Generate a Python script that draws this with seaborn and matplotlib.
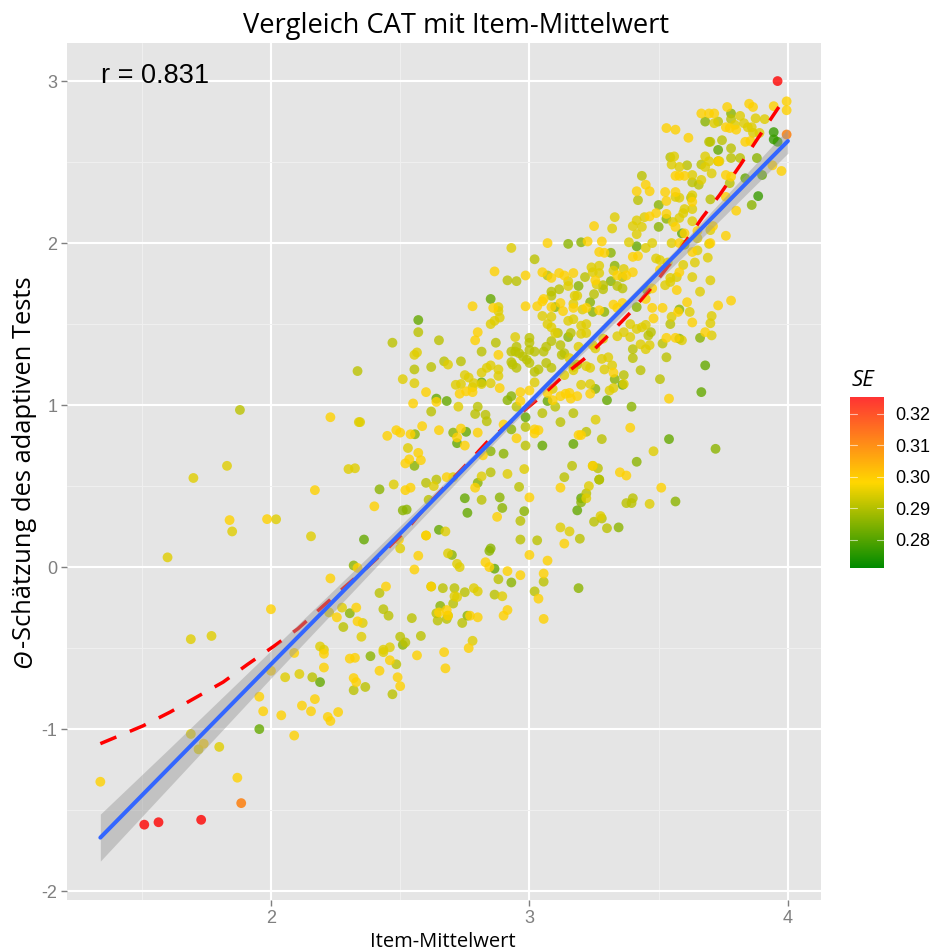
import numpy as np
import pandas as pd
import matplotlib.pyplot as plt
import seaborn as sns
from matplotlib.cm import ScalarMappable
from matplotlib.colors import LinearSegmentedColormap, Normalize
from matplotlib.ticker import AutoMinorLocator

# points, grouped by the SE colour they show: (Item-Mittelwert, Theta)
pts_deep = [(3.945, 2.685), (3.945, 2.64), (3.96, 2.625), (3.885, 2.29)]
pts_green = [(2.57, 1.525), (2.85, 1.655), (1.955, -1.0), (2.985, 0.925), (3.05, 0.75), (3.17, 0.76),
             (2.36, 0.17), (2.72, 0.765), (2.76, 0.335), (2.75, 0.425), (3.54, 0.79), (3.665, 1.08),
             (3.68, 1.245), (3.07, 1.025), (3.185, 0.35), (3.2, 0.425), (2.865, -0.01), (2.65, 0.23),
             (3.9, 2.42), (3.59, 2.06), (3.3, 1.03), (2.64, 1.04), (2.68, 1.025), (2.755, 0.835),
             (2.19, -0.71), (3.835, 2.4), (3.415, 1.98), (3.73, 2.575), (2.815, 1.14), (3.36, 1.125)]
pts_lime = [(2.32, 0.01), (2.305, -0.285), (2.705, 0.83), (2.93, 0.85), (2.915, 1.03), (2.93, 1.055),
            (2.85, 0.715), (2.9, 0.7), (2.885, 0.43), (2.8, 0.52), (2.42, 0.48), (2.555, 0.625),
            (2.557, 0.82), (3.15, 1.995), (3.2, 2.005), (3.315, 1.94), (3.33, 1.86), (3.315, 1.765),
            (3.19, 1.735), (3.235, 1.635), (3.245, 1.575), (3.29, 1.575), (3.415, 1.605), (3.455, 1.71),
            (3.58, 1.59), (3.33, 1.16), (3.255, 1.1), (3.395, 0.99), (3.58, 1.41), (3.5, 2.1),
            (3.53, 2.15), (3.5, 2.235), (3.73, 2.505), (3.78, 2.8), (3.68, 2.75), (3.86, 2.235),
            (3.88, 2.525), (3.72, 0.73), (3.565, 0.405), (3.415, 0.65), (3.19, -0.13), (2.895, 0.365),
            (2.7, 0.075), (2.85, 0.115), (2.845, 0.1), (2.93, -0.095), (2.655, -0.24), (2.76, -0.3),
            (2.385, -0.55), (2.51, -0.48), (2.98, 0.345), (3.2, 0.4), (3.345, 0.245), (3.27, 0.54),
            (2.51, 0.35), (2.525, 0.355), (3.6, 1.99), (3.66, 1.415), (3.1, 1.605), (3.15, 1.42)]
pts_olive = [(1.88, 0.97), (2.28, -0.37), (2.32, -0.76), (2.16, -0.68), (2.57, 1.45), (2.65, 1.4),
             (2.47, 1.385), (2.335, 1.21), (2.87, 1.385), (2.815, 1.33), (2.555, 1.22), (2.62, 1.235),
             (2.67, 1.27), (2.735, 1.27), (2.95, 0.99), (3.1, 0.99), (3.05, 0.95), (3.12, 0.895),
             (3.17, 0.95), (2.985, 0.75), (2.985, 0.865), (2.62, 0.96), (2.79, 0.945), (2.83, 0.94),
             (2.835, 0.9), (2.8, 0.99), (2.85, 0.585), (2.96, 0.495), (3.135, 0.555), (3.165, 0.625),
             (2.64, 0.54), (2.6, 0.52), (2.815, 0.415), (2.61, 0.415), (2.96, 1.32), (2.975, 1.3),
             (2.99, 1.28), (3.0, 1.26), (2.93, 1.265), (2.935, 1.25), (2.95, 1.23), (3.0, 1.415),
             (3.0, 1.385), (2.95, 1.36), (2.945, 1.33), (2.93, 1.33), (3.0, 1.34), (3.02, 1.33),
             (3.065, 1.36), (3.055, 1.33), (3.085, 1.395), (3.12, 1.37), (3.125, 1.31), (3.135, 1.32),
             (3.02, 1.205), (3.035, 1.22), (3.065, 1.26), (3.085, 1.23), (3.11, 1.445), (3.16, 1.445),
             (3.17, 1.235), (3.185, 1.25), (2.915, 1.77), (2.95, 1.765), (3.02, 1.9), (3.07, 1.8),
             (3.085, 1.7), (3.085, 1.675), (3.115, 1.715), (3.25, 1.685), (3.215, 1.79), (3.36, 1.79),
             (3.34, 1.735), (3.36, 1.72), (3.285, 1.74), (3.285, 1.715), (3.53, 1.295), (3.43, 1.215),
             (3.505, 1.16), (3.365, 1.185), (3.4, 1.345), (3.4, 1.29), (3.46, 1.43), (3.47, 1.45),
             (3.545, 1.5), (3.515, 1.38), (3.27, 0.54), (3.22, 0.455), (3.28, 0.79), (3.22, 0.835),
             (3.245, 0.625), (3.265, 0.61), (3.375, 0.395), (3.4, 0.425), (3.395, 0.395), (3.25, 0.28),
             (3.28, 0.3), (3.195, 0.175), (3.3, 0.24), (2.965, 0.17), (3.03, 0.165), (2.965, 0.285),
             (2.71, -0.13), (2.75, -0.155), (2.865, -0.17), (2.705, -0.225), (2.64, -0.285), (2.74, -0.345),
             (2.685, -0.3), (2.68, -0.32), (2.645, -0.33), (3.055, -0.09), (3.02, -0.15), (2.88, -0.075),
             (2.42, -0.16), (2.62, -0.12), (2.665, -0.13), (2.545, -0.315), (2.435, -0.26), (2.455, -0.3),
             (2.5, -0.43), (2.52, -0.465), (2.58, -0.425), (2.485, -0.6), (2.365, -0.74), (2.47, -0.785),
             (3.78, 2.765), (3.78, 2.585), (3.815, 2.525), (3.73, 2.75), (3.695, 2.625), (3.7, 2.625),
             (3.745, 2.635), (3.78, 2.525), (3.545, 2.53), (3.61, 2.48), (3.665, 2.485), (3.775, 2.37),
             (3.63, 2.375), (3.655, 2.36), (3.42, 2.265), (3.7, 2.27), (3.625, 2.28), (3.435, 2.415)]
pts_yellow = [(2.02, 0.295), (1.85, 0.22), (2.155, 0.19), (1.6, 0.06), (2.225, -0.28), (1.69, -0.445),
              (1.77, -0.425), (2.055, -0.68), (2.11, -0.66), (1.69, -1.03), (1.72, -1.125), (1.8, -1.11),
              (1.83, 0.625), (1.7, 0.55), (2.19, -0.49), (2.205, -0.51), (2.275, -0.25), (2.345, 0.895),
              (2.51, 1.16), (2.555, 1.135), (2.685, 1.25), (2.565, 1.325), (2.555, 1.31), (2.75, 1.185),
              (2.765, 1.17), (2.835, 1.23), (2.85, 1.245), (2.815, 1.2), (2.88, 1.22), (2.88, 1.18),
              (2.785, 1.135), (2.815, 1.13), (2.85, 1.135), (2.715, 1.125), (2.735, 1.13), (2.78, 1.11),
              (2.34, 0.895), (2.725, 0.99), (2.53, 0.735), (2.3, 0.605), (2.325, 0.61), (2.475, 0.51),
              (2.63, 0.5), (2.705, 0.555), (2.815, 0.56), (2.915, 0.575), (2.98, 0.605), (3.135, 1.185),
              (3.02, 1.14), (3.09, 1.1), (2.88, 1.605), (2.88, 1.58), (2.885, 1.54), (2.865, 1.52),
              (2.85, 1.5), (3.05, 1.55), (3.085, 1.545), (3.15, 1.52), (3.17, 1.53), (3.07, 1.5),
              (3.085, 1.48), (3.1, 1.445), (2.945, 1.42), (3.17, 1.215), (3.33, 2.16), (3.32, 2.09),
              (3.4, 2.105), (3.435, 2.1), (3.415, 2.055), (3.385, 2.005), (3.45, 1.97), (3.475, 2.0),
              (3.55, 2.0), (2.93, 1.97), (3.49, 1.905), (3.505, 1.895), (3.24, 1.85), (3.27, 1.86),
              (3.365, 1.84), (3.245, 1.82), (3.27, 1.815), (3.325, 1.83), (3.15, 1.765), (3.15, 1.735),
              (3.26, 1.745), (3.175, 1.675), (3.185, 1.675), (3.17, 1.625), (3.205, 1.59), (3.545, 1.76),
              (3.57, 1.79), (3.545, 1.785), (3.525, 1.74), (3.55, 1.545), (3.39, 1.5), (3.415, 1.47),
              (3.435, 1.48), (3.45, 1.495), (3.365, 1.45), (3.39, 1.42), (3.34, 1.425), (3.285, 1.41),
              (3.43, 1.375), (3.45, 1.345), (3.465, 1.37), (3.29, 1.22), (3.28, 1.285), (3.305, 1.295),
              (3.32, 1.245), (3.22, 1.24), (3.235, 1.23), (3.255, 1.35), (3.245, 1.37), (3.2, 1.49),
              (3.22, 1.5), (3.2, 1.44), (3.22, 1.445), (3.155, 1.29), (3.19, 1.36), (3.2, 1.125),
              (3.235, 1.13), (3.365, 1.13), (3.325, 1.105), (3.31, 1.09), (3.256, 0.91), (3.48, 0.715),
              (3.23, 0.5), (3.22, 0.425), (3.465, 0.39), (3.275, 0.315), (3.155, 0.22), (3.12, 0.245),
              (2.895, -0.18), (2.71, -0.18), (2.72, -0.185), (2.785, -0.13), (2.8, -0.15), (2.73, 0.0),
              (2.72, 0.02), (2.685, 0.085), (2.6, 0.195), (2.675, 0.22), (2.5, 0.115), (2.78, -0.455),
              (2.435, -0.51), (2.435, -0.525), (2.46, -0.495), (2.355, -0.345), (2.35, -0.43), (3.845, 2.715),
              (3.86, 2.715), (3.83, 2.74), (3.795, 2.73), (3.815, 2.785), (3.875, 2.77), (3.89, 2.68),
              (3.865, 2.68), (3.91, 2.765), (3.715, 2.74), (3.735, 2.505), (3.68, 2.535), (3.695, 2.505),
              (3.68, 2.47), (3.705, 2.43), (3.58, 2.47), (3.56, 2.535), (3.55, 2.485), (3.63, 2.42),
              (3.665, 2.39), (3.415, 2.14), (3.445, 2.16), (3.63, 2.295), (3.58, 2.28), (3.565, 2.285),
              (3.63, 2.21), (3.6, 2.21), (3.595, 2.185), (3.58, 2.155), (3.555, 2.13), (3.63, 2.135),
              (3.7, 2.08), (3.65, 2.03), (3.695, 1.995), (3.65, 1.955), (3.69, 1.91), (3.64, 1.88),
              (3.63, 1.79), (3.7, 1.77), (3.66, 1.7), (3.705, 1.55), (3.7, 1.505), (3.62, 1.575),
              (3.595, 1.865), (3.535, 1.88), (3.705, 1.43), (3.59, 1.4)]
pts_gold = [(2.17, 0.475), (1.84, 0.29), (1.985, 0.296), (2.23, -0.07), (2.0, -0.26), (2.255, -0.31),
            (2.33, -0.25), (2.335, -0.335), (2.205, -0.535), (2.305, -0.565), (2.325, -0.56), (2.205, -0.62),
            (2.33, -0.71), (2.32, -0.685), (1.955, -0.8), (2.17, -0.815), (2.12, -0.855), (1.97, -0.89),
            (2.155, -0.89), (2.26, -0.895), (2.22, -0.925), (2.23, -0.95), (2.09, -1.04), (1.34, -1.325),
            (1.87, -1.3), (2.23, 0.925), (2.04, -0.915), (1.74, -1.09), (2.09, -0.53), (2.0, -0.64),
            (2.78, 1.61), (2.79, 1.4), (2.8, 1.45), (2.88, 1.31), (2.885, 1.105), (2.6, 1.08),
            (2.64, 1.02), (2.55, 1.01), (2.755, 1.085), (2.73, 1.07), (2.78, 1.08), (2.45, 0.81),
            (2.485, 0.845), (2.5, 0.83), (2.54, 0.82), (2.585, 0.87), (2.65, 0.845), (2.735, 0.855),
            (2.72, 0.8), (2.75, 0.75), (2.8, 0.83), (2.57, 0.705), (2.535, 0.665), (2.58, 0.66),
            (2.52, 0.64), (2.82, 0.69), (2.95, 0.795), (3.02, 0.85), (3.035, 0.845), (3.02, 0.825),
            (2.9, 0.88), (3.12, 0.49), (3.19, 0.815), (3.0, 0.43), (2.79, 0.49), (2.68, 0.555),
            (2.52, 0.475), (2.54, 0.49), (2.985, 1.61), (3.03, 1.61), (3.085, 1.605), (2.86, 1.6),
            (3.13, 1.58), (3.17, 1.6), (3.0, 1.09), (2.965, 1.08), (3.07, 1.075), (2.965, 1.025),
            (3.09, 1.03), (3.12, 1.055), (3.14, 1.07), (3.155, 1.075), (3.16, 1.04), (3.185, 1.055),
            (3.25, 2.105), (3.07, 2.0), (3.225, 2.01), (3.28, 2.01), (3.27, 1.945), (3.29, 1.94),
            (3.4, 1.915), (3.42, 1.92), (2.865, 1.825), (2.985, 1.8), (3.05, 1.82), (3.085, 1.785),
            (3.115, 1.815), (3.135, 1.8), (3.17, 1.815), (3.34, 1.8), (3.375, 1.8), (3.4, 1.82),
            (3.255, 1.77), (3.12, 1.63), (3.055, 1.655), (3.05, 1.64), (3.22, 1.6), (3.27, 1.585),
            (3.325, 1.62), (3.34, 1.6), (3.36, 1.63), (3.475, 1.6), (3.515, 1.6), (3.45, 1.655),
            (3.475, 1.72), (3.48, 1.535), (3.53, 1.415), (3.565, 1.415), (3.54, 1.04), (3.235, 1.07),
            (3.325, 1.2), (3.39, 0.86), (3.2, 0.815), (3.35, 0.585), (3.375, 0.565), (3.51, 0.49),
            (3.245, 0.625), (2.875, 0.31), (2.6, 0.195), (2.495, 0.17), (2.57, 0.07), (2.83, 0.03),
            (3.0, 0.075), (3.07, 0.04), (2.965, -0.05), (3.055, -0.04), (2.915, -0.025), (2.555, -0.015),
            (2.845, 0.0), (2.335, -0.005), (3.135, 0.145), (2.4, 0.375), (3.035, -0.195), (2.445, -0.12),
            (2.62, -0.12), (2.68, -0.265), (2.65, -0.28), (2.685, -0.3), (2.77, -0.3), (2.8, -0.31),
            (2.915, -0.265), (2.9, -0.3), (3.055, -0.32), (2.565, -0.545), (2.67, -0.525), (2.765, -0.5),
            (2.675, -0.625), (2.46, -0.575), (2.42, -0.64), (2.49, -0.68), (2.5, -0.735), (3.995, 2.875),
            (3.995, 2.82), (3.945, 2.845), (3.85, 2.86), (3.865, 2.84), (3.765, 2.84), (3.665, 2.8),
            (3.695, 2.8), (3.715, 2.8), (3.76, 2.715), (3.8, 2.7), (3.775, 2.71), (3.53, 2.71),
            (3.565, 2.7), (3.615, 2.65), (3.835, 2.625), (3.855, 2.63), (3.73, 2.505), (3.94, 2.48),
            (3.975, 2.445), (3.565, 2.415), (3.58, 2.415), (3.6, 2.415), (3.76, 2.42), (3.78, 2.41),
            (3.45, 2.36), (3.465, 2.32), (3.415, 2.32), (3.525, 2.315), (3.565, 2.315), (3.53, 2.26),
            (3.63, 2.255), (3.76, 2.285), (3.8, 2.2), (3.465, 2.165), (3.49, 2.185), (3.53, 2.18),
            (3.565, 2.1), (3.71, 2.105), (3.76, 2.045), (3.65, 2.075), (3.6, 2.06), (3.7, 2.0),
            (3.58, 2.0), (3.78, 1.645), (3.73, 1.615), (3.68, 1.45), (3.63, 1.51), (3.61, 1.635),
            (3.575, 1.575), (3.57, 1.71), (3.58, 1.82), (3.505, 1.835), (3.63, 1.945)]
pts_orange = [(1.885, -1.457), (3.995, 2.67)]
pts_red = [(1.73, -1.56), (1.565, -1.575), (1.51, -1.59), (3.96, 3.0)]
se_levels = [0.277, 0.282, 0.286, 0.291, 0.295, 0.299, 0.31, 0.325]

# linear fit and its band, dashed smoother
fit_x = [1.34, 2.0, 3.0, 4.0]
fit_y = [-1.67, -0.6, 1.015, 2.63]
band_x = [1.34, 1.6, 2.0, 2.4, 2.8, 3.0, 3.2, 3.6, 4.0]
band_low = [-1.815, -1.37, -0.685, -0.01, 0.66, 0.99, 1.31, 1.925, 2.555]
band_high = [-1.525, -1.13, -0.515, 0.1, 0.72, 1.04, 1.364, 2.015, 2.705]
smooth_x = [1.34, 1.505, 1.61, 1.715, 1.815, 1.91, 2.01, 2.105, 2.195, 2.28, 2.36, 2.445, 2.53, 2.595,
            2.76, 2.835, 2.96, 3.05, 3.145, 3.22, 3.305, 3.39, 3.48, 3.55, 3.6, 3.67, 3.735, 3.815,
            3.885, 3.965]
smooth_y = [-1.09, -0.98, -0.895, -0.8, -0.71, -0.6, -0.49, -0.38, -0.25, -0.13, -0.02, 0.105, 0.24,
            0.365, 0.64, 0.77, 0.94, 1.06, 1.2, 1.295, 1.43, 1.57, 1.74, 1.885, 2.0, 2.16, 2.295, 2.48,
            2.65, 2.84]
se_ticks = [0.28, 0.29, 0.30, 0.31, 0.32]

sns.set_theme(style="darkgrid", rc={'axes.facecolor': '#E5E5E5', 'figure.facecolor': 'white',
                                    'grid.color': 'white', 'axes.unicode_minus': False})
plt.rcParams['font.family'] = ['Liberation Sans', 'DejaVu Sans']

groups = [pts_deep, pts_green, pts_lime, pts_olive, pts_yellow, pts_gold, pts_orange, pts_red]
frames = []
for pts, se in zip(groups, se_levels):
    d = pd.DataFrame(pts, columns=['item', 'theta'])
    d['se'] = se
    frames.append(d)
df = pd.concat(frames, ignore_index=True)

cmap = LinearSegmentedColormap.from_list('se', ['#008B00', '#FFD700', '#FF0000'])
bar_cmap = LinearSegmentedColormap.from_list('se_bar', ['#008B00', '#FFD700', '#FF3333'])
norm = Normalize(0.271, 0.3254)

W, H = 933, 952
fig = plt.figure(figsize=(W / 100, H / 100), dpi=100)
ax = fig.add_axes([67 / W, (H - 900) / H, (821 - 67) / W, (900 - 43) / H])

sns.scatterplot(data=df, x='item', y='theta', hue='se', palette=cmap, hue_norm=norm, legend=False,
                s=50, alpha=0.8, linewidth=0, ax=ax, zorder=3)
sns.lineplot(x=smooth_x, y=smooth_y, color='#FF0000', linewidth=2.5, dashes=(5, 4.2), sort=False,
             errorbar=None, ax=ax, zorder=4)
ax.fill_between(band_x, band_low, band_high, color='#999999', alpha=0.45, linewidth=0, zorder=5)
sns.lineplot(x=fit_x, y=fit_y, color='#3366FF', linewidth=2.9, errorbar=None, ax=ax, zorder=6)

ax.set_xlim(1.211, 4.128)
ax.set_ylim(-2.055, 3.235)
ax.set_xticks([2, 3, 4])
ax.set_yticks([-2, -1, 0, 1, 2, 3])
ax.xaxis.set_minor_locator(AutoMinorLocator(2))
ax.yaxis.set_minor_locator(AutoMinorLocator(2))
ax.grid(which='major', color='white', linewidth=1.5)
ax.grid(which='minor', color='#F0F0F0', linewidth=0.7)
ax.tick_params(which='major', length=4, width=1, color='#7F7F7F', labelcolor='#7F7F7F', labelsize=13,
               bottom=True, left=True, pad=3)
ax.tick_params(which='minor', length=0)
ax.set_axisbelow(True)
ax.set_xlabel('')
ax.set_ylabel('')
sns.despine(ax=ax, left=True, bottom=True)

ax.text(1.342, 2.99, 'r = 0.831', fontsize=19.5, color='black', va='baseline', ha='left', zorder=7)
fig.text(456 / W, 1 - 26 / H, 'Vergleich CAT mit Item-Mittelwert', family='Open Sans', fontsize=19.6,
         ha='center', va='center', color='black')
fig.text(443 / W, 1 - 942 / H, 'Item-Mittelwert', family='Open Sans', fontsize=14.5, ha='center',
         va='center', color='black')
fig.text(25 / W, 1 - 668 / H, 'Θ', family='Open Sans', style='italic', fontsize=18.4, rotation=90,
         ha='center', va='bottom', color='black')
fig.text(25 / W, 1 - 648 / H, '-Schätzung des adaptiven Tests', family='Open Sans', fontsize=18.4,
         rotation=90, ha='center', va='bottom', color='black')

# SE colour bar
cax = fig.add_axes([850 / W, (H - 568) / H, 34 / W, (568 - 397) / H])
cb = fig.colorbar(ScalarMappable(norm=norm, cmap=bar_cmap), cax=cax, ticks=se_ticks)
cb.outline.set_visible(False)
cax.set_yticklabels(['%.2f' % t for t in se_ticks])
cax.tick_params(axis='y', length=0, labelsize=13, labelcolor='black', pad=8)
cax.grid(False)
for t in se_ticks:
    cax.plot([0, 0.2], [t, t], color='white', alpha=0.6, linewidth=0.8, transform=cax.get_yaxis_transform())
    cax.plot([0.8, 1], [t, t], color='white', alpha=0.6, linewidth=0.8, transform=cax.get_yaxis_transform())
fig.text(852 / W, 1 - 381 / H, 'SE', family='Open Sans', style='italic', fontsize=16, ha='left', va='center',
         color='black')

fig.savefig('out.png', dpi=100)
plt.close(fig)
